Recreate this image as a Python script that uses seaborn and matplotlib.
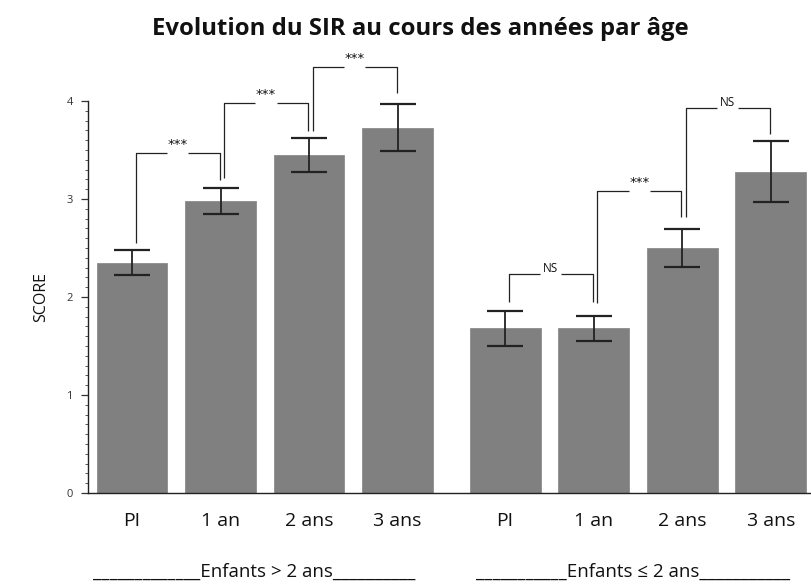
import numpy as np
import pandas as pd
import matplotlib
matplotlib.use("Agg")
import matplotlib.pyplot as plt
import seaborn as sns
from matplotlib.ticker import FixedLocator

# ---- data ----
time_labels = ["PI", "1 an", "2 ans", "3 ans"]
group_labels = ["Enfants > 2 ans", "Enfants \u2264 2 ans"]
means_g1 = [2.35, 2.98, 3.45, 3.73]
errs_g1 = [0.13, 0.135, 0.17, 0.24]
means_g2 = [1.68, 1.68, 2.50, 3.28]
errs_g2 = [0.175, 0.125, 0.19, 0.31]

# comparisons: (group, i, j, bracket height, left leg bottom, right leg bottom, label)
comparisons = [
    (0, 0, 1, 3.47, 2.55, 3.19, "***"),
    (0, 1, 2, 3.98, 3.21, 3.69, "***"),
    (0, 2, 3, 4.35, 3.69, 4.08, "***"),
    (1, 0, 1, 2.23, 1.95, 1.95, "NS"),
    (1, 1, 2, 3.08, 1.94, 2.82, "***"),
    (1, 2, 3, 3.93, 2.82, 3.66, "NS"),
]

# ---- layout ----
sns.set_theme(style="white")
plt.rcParams["font.family"] = ["Open Sans", "DejaVu Sans"]

GROUP_GAP = 0.215
rows = []
for g, (means, errs) in enumerate([(means_g1, errs_g1), (means_g2, errs_g2)]):
    for i, (m, e) in enumerate(zip(means, errs)):
        rows.append({"group": g, "idx": i, "pos": i + g * (4 + GROUP_GAP),
                     "label": time_labels[i], "score": m, "err": e})
df = pd.DataFrame(rows)

fig = plt.figure(figsize=(8.11, 5.88), dpi=100)
ax = fig.add_axes([0.1085, 0.1616, 0.8915, 0.7415])

sns.barplot(data=df, x="pos", y="score", native_scale=True, color="#808080",
            saturation=1, width=0.8, errorbar=None, ax=ax, edgecolor="#8c8c8c",
            linewidth=0.6)
ax.errorbar(df["pos"], df["score"], yerr=df["err"], fmt="none",
            ecolor="#222222", elinewidth=1.3, capsize=13, capthick=1.6, zorder=3)

# brackets
LEG_OFF_L = 0.04
LEG_OFF_R = -0.01
HALF_GAP = 0.12
for g, i, j, h, yl, yr, lab in comparisons:
    xl = i + g * (4 + GROUP_GAP) + LEG_OFF_L
    xr = j + g * (4 + GROUP_GAP) + LEG_OFF_R
    xm = (xl + xr) / 2
    kw = dict(color="#222222", lw=0.9, solid_capstyle="butt")
    ax.plot([xl, xl, xm - HALF_GAP], [yl, h, h], **kw)
    ax.plot([xm + HALF_GAP, xr, xr], [h, h, yr], **kw)
    if lab == "***":
        ax.text(xm, h + 0.085, lab, ha="center", va="center", fontsize=9.5,
                color="#111111", family="DejaVu Sans")
    else:
        ax.text(xm, h + 0.06, lab, ha="center", va="center", fontsize=8.5,
                color="#111111")

ax.set_xlim(-0.497, 7.67)
ax.set_ylim(0, 4.45)
ax.set_xticks(df["pos"])
ax.set_xticklabels(df["label"], fontsize=14, color="#111111")
ax.tick_params(axis="x", length=0, pad=14)
ax.set_yticks([0, 1, 2, 3, 4])
ax.yaxis.set_minor_locator(FixedLocator(np.round(np.arange(0, 4.001, 0.1), 2)))
ax.tick_params(axis="y", which="major", length=5, width=0.9, color="#333333",
               labelsize=8, labelcolor="#333333", pad=6, left=True)
ax.tick_params(axis="y", which="minor", length=2, width=0.7, color="#555555", left=True)
ax.set_xlabel("")
ax.set_ylabel("SCORE", fontsize=11.5, color="#111111")
ax.yaxis.set_label_coords(-0.054, 2 / 4.45)

for s in ["top", "right"]:
    ax.spines[s].set_visible(False)
ax.spines["left"].set_bounds(0, 4)
for s in ["left", "bottom"]:
    ax.spines[s].set_color("#222222")
    ax.spines[s].set_linewidth(1.0)

fig.text(0.518, 1 - 35 / 588, "Evolution du SIR au cours des années par âge",
         ha="center", va="baseline", fontsize=17.2, fontweight="bold", color="#111111",
         family=["Open Sans", "DejaVu Sans"])

fig.text(93 / 811, 1 - 577 / 588, "_" * 13 + group_labels[0] + "_" * 10,
         ha="left", va="baseline", fontsize=13.5, color="#111111")
fig.text(476 / 811, 1 - 577 / 588, "_" * 11 + group_labels[1] + "_" * 11,
         ha="left", va="baseline", fontsize=13.5, color="#111111",
         family=["Open Sans", "DejaVu Sans"])

fig.savefig("out.png", dpi=100)
